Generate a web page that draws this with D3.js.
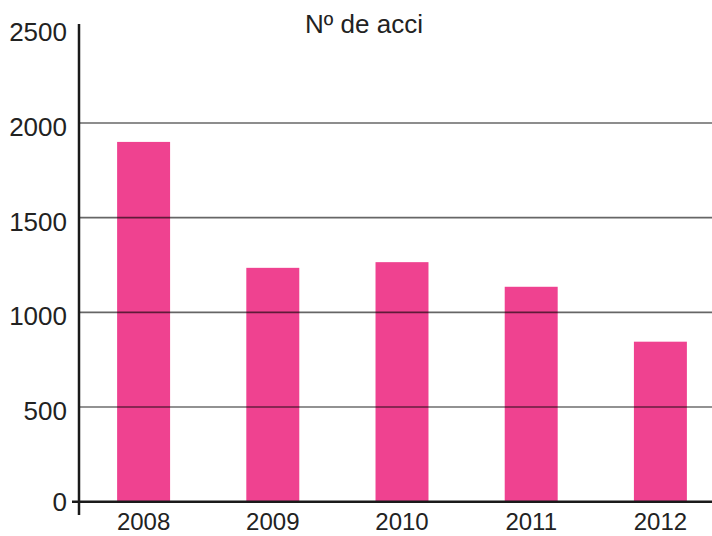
<!DOCTYPE html>
<html>
<head>
<meta charset="utf-8">
<script src="https://cdn.jsdelivr.net/npm/d3@7"></script>
<style>
  html, body { margin: 0; padding: 0; background: #fff; }
  svg text { font-family: "Liberation Sans", Arial, Helvetica, sans-serif; fill: #222; }
</style>
</head>
<body>
<svg id="chart" width="712" height="536"></svg>
<script>
(function () {
  'use strict';

  const years = ['2008', '2009', '2010', '2011', '2012'];
  const accidents = [1900, 1235, 1265, 1135, 845];
  const yTicks = [0, 500, 1000, 1500, 2000, 2500];
  const title = 'Nº de acci';

  const svg = d3.select('#chart');

  const x = d3.scaleBand()
    .domain(years)
    .range([79, 725])
    .paddingInner(0.59)
    .paddingOuter(0.295);

  const y = d3.scaleLinear()
    .domain([0, 2500])
    .range([501.7, 28.3]);

  // bars
  svg.append('g').selectAll('rect')
    .data(years)
    .join('rect')
    .attr('x', d => x(d))
    .attr('width', x.bandwidth())
    .attr('y', (d, i) => y(accidents[i]))
    .attr('height', (d, i) => y(0) - y(accidents[i]))
    .attr('fill', '#ef4290');

  // gridlines drawn over the bars
  svg.append('g').selectAll('line')
    .data(yTicks.filter(t => t > 0 && t < 2500))
    .join('line')
    .attr('x1', 79).attr('x2', 712)
    .attr('y1', d => y(d)).attr('y2', d => y(d))
    .attr('stroke', d => d === 500 ? 'rgba(0,0,0,0.85)' : 'rgba(0,0,0,0.6)')
    .attr('stroke-width', d => d === 500 ? 1.2 : 1.7);

  // y axis line
  svg.append('line')
    .attr('x1', 79).attr('x2', 79)
    .attr('y1', 24).attr('y2', 515)
    .attr('stroke', '#1a1a1a').attr('stroke-width', 2.5);

  // baseline with tick
  svg.append('line')
    .attr('x1', 72).attr('x2', 712)
    .attr('y1', y(0)).attr('y2', y(0))
    .attr('stroke', '#1a1a1a').attr('stroke-width', 2.5);

  // y labels
  svg.append('g').selectAll('text')
    .data(yTicks)
    .join('text')
    .attr('x', 67)
    .attr('y', d => y(d))
    .attr('dy', d => d === 0 ? '0.35em' : '0.5em')
    .attr('text-anchor', 'end')
    .attr('font-size', 26)
    .text(d => d);

  // x labels
  svg.append('g').selectAll('text')
    .data(years)
    .join('text')
    .attr('x', d => x(d) + x.bandwidth() / 2)
    .attr('y', 530)
    .attr('text-anchor', 'middle')
    .attr('font-size', 24)
    .text(d => d);

  // title
  svg.append('text')
    .attr('x', 364)
    .attr('y', 33)
    .attr('text-anchor', 'middle')
    .attr('font-size', 26)
    .text(title);
})();
</script>
</body>
</html>
